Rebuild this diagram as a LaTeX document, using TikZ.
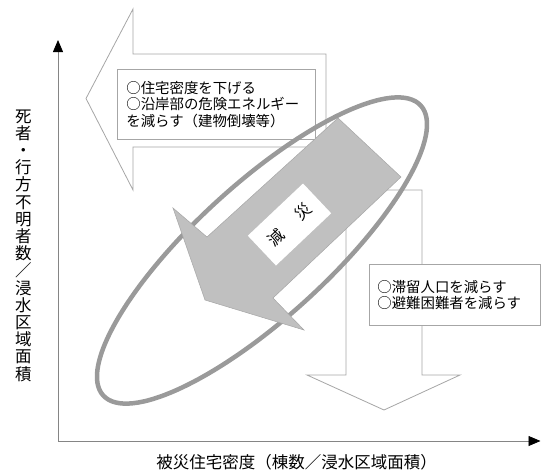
\documentclass[tikz,border=0pt]{standalone}
\usepackage{fontspec}
\setmainfont{Noto Sans CJK JP}
\usetikzlibrary{arrows.meta}

\definecolor{linea}{HTML}{A6A6A6}
\definecolor{gris}{HTML}{C0C0C0}
\definecolor{grisElipse}{HTML}{9A9A9A}
\definecolor{grisEje}{HTML}{858585}

\begin{document}
\begin{tikzpicture}[x=1pt,y=-1pt]
\tikzstyle{flecha}=[draw=linea, fill=white, line width=0.8pt]
\tikzstyle{caja}=[draw=linea, fill=white, line width=0.8pt, align=left, anchor=north west, font=\fontsize{14.4}{16.5}\selectfont]
\tikzstyle{eje}=[draw=grisEje, line width=0.8pt, -{Triangle[length=12pt,width=10pt,black]}]
\tikzstyle{etiqueta}=[font=\fontsize{16.5}{17.2}\selectfont, align=center]

\useasboundingbox (0,0) rectangle (541,472);

%%%%%%%%%%%%%%%%%%%%%%%%%%%%%%
%%%%%
%%%%% PUNTOS
\coordinate (O) at (58,441);
\coordinate (y_max) at (58,40);
\coordinate (x_max) at (540.5,441);

\coordinate (t_1) at (117,69);
\coordinate (t_2) at (369,264);

\coordinate (centro) at (262,250.5);
\coordinate (g) at (289.5,224.5);

\coordinate (y_l) at (23.5,245.5);
\coordinate (x_l) at (296.5,462);

%%%%%%%%%%%%%%%%%%%%%%%%%%%%%%
%%%%%
%%%%% FLECHA IZQUIERDA
\draw[flecha] (326,54) -- (133,54) -- (133,9) -- (86,98.5) -- (133,190) -- (133,147) -- (326,147) -- cycle;
\node[caja, minimum height=70pt, text width=180pt, inner xsep=9pt] (texto_1) at (t_1) {○住宅密度を下げる\\○沿岸部の危険エネルギー\\を減らす（建物倒壊等）};

%%%%% FLECHA ABAJO
\draw[flecha] (346,190) -- (422,190) -- (422,375) -- (460,375) -- (384,410) -- (307,375) -- (346,375) -- cycle;
\node[caja, minimum height=61pt, text width=155pt, inner xsep=8pt] (texto_2) at (t_2) {○滞留人口を減らす\\○避難困難者を減らす};

%%%%%%%%%%%%%%%%%%%%%%%%%%%%%%
%%%%%
%%%%% ELIPSE Y FLECHA GRIS
\draw[grisElipse, line width=4.5pt, rotate around={42.4:(centro)}] (centro) ellipse [x radius=215pt, y radius=66.6pt];

\draw[fill=gris, draw=linea, line width=0.5pt] (338,118) -- (207,237) -- (173,208) -- (205,300) -- (304,330) -- (273,298) -- (401,177) -- cycle;
\node[fill=white, rotate=43.4, minimum width=76pt, minimum height=41pt, inner sep=0pt, font=\fontsize{16}{16}\selectfont] (gensai) at (g) {減\hspace{21pt}災};

%%%%%%%%%%%%%%%%%%%%%%%%%%%%%%
%%%%%
%%%%% EJES
\draw[eje] (O) -- (y_max);
\draw[eje] (O) -- (x_max);

\node[etiqueta] (y_label) at (y_l) {死\\者\\・\\行\\方\\不\\明\\者\\数\\／\\浸\\水\\区\\域\\面\\積};
\node[etiqueta] (x_label) at (x_l) {被災住宅密度（棟数／浸水区域面積）};

\end{tikzpicture}
\end{document}
